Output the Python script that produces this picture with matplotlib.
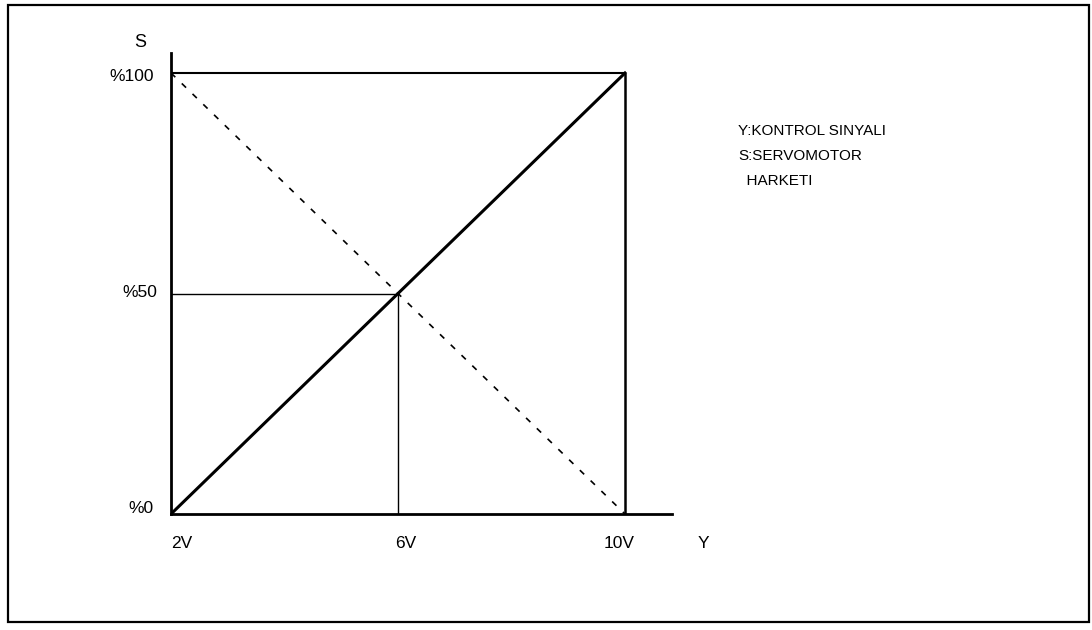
import matplotlib.pyplot as plt
from matplotlib.patches import Rectangle

# valores del grafico
volts = [2, 6, 10]
percents = [0, 50, 100]
x_labels = ["2V", "6V", "10V"]
y_labels = ["%0", "%50", "%100"]
legend_lines = ["Y:KONTROL SINYALI", "S:SERVOMOTOR", "  HARKETI"]

plt.rcParams["font.family"] = ["Liberation Sans", "DejaVu Sans"]

fig = plt.figure(figsize=(10.92, 6.3), dpi=100)
ax = fig.add_axes([171 / 1092, 116 / 630, 501 / 1092, 461 / 630])
ax.set_xlim(2, 2 + 501 / 56.75)
ax.set_ylim(0, 461 / 4.41)

for side in ["top", "right"]:
    ax.spines[side].set_visible(False)
ax.spines["left"].set_linewidth(2)
ax.spines["bottom"].set_linewidth(2)
ax.set_xticks([])
ax.set_yticks([])

x0, xm, x1 = volts
y0, ym, y1 = percents

# marco del 100%
ax.plot([x0, x1], [y1, y1], color="black", lw=1.5, solid_capstyle="butt")
ax.plot([x1, x1], [y0, y1], color="black", lw=1.8, solid_capstyle="butt")
# recta principal y la inversa punteada
ax.plot([x0, x1], [y0, y1], color="black", lw=2.2)
ax.plot([x0, x1], [y1, y0], color="black", lw=1.2, linestyle=(0, (3.6, 5.4)))
# guias del 50%
ax.plot([x0, xm], [ym, ym], color="black", lw=1.0)
ax.plot([xm, xm], [y0, ym], color="black", lw=1.0)

fs = 12.5
ty = -6.8  # altura de las etiquetas del eje x
# etiquetas eje x
ax.text(volts[0], ty, x_labels[0], ha="left", va="center", fontsize=fs, clip_on=False)
ax.text(volts[1] - 0.05, ty, x_labels[1], ha="left", va="center", fontsize=fs, clip_on=False)
ax.text(volts[2] - 0.1, ty, x_labels[2], ha="center", va="center", fontsize=fs, clip_on=False)
ax.text(11.39, ty, "Y", ha="center", va="center", fontsize=fs, clip_on=False)

# etiquetas eje y
ax.text(1.7, percents[0] + 1.3, y_labels[0], ha="right", va="center", fontsize=fs, clip_on=False)
ax.text(1.76, percents[1] + 0.2, y_labels[1], ha="right", va="center", fontsize=fs, clip_on=False)
ax.text(1.7, percents[2] - 0.9, y_labels[2], ha="right", va="center", fontsize=fs, clip_on=False)
ax.text(1.45, 107.0, "S", ha="center", va="center", fontsize=fs + 0.5, clip_on=False)

# texto explicativo
lfs = 11
fig.text(738 / 1092, (630 - 131) / 630, legend_lines[0], ha="left", va="center", fontsize=lfs)
fig.text(738 / 1092, (630 - 156) / 630, legend_lines[1], ha="left", va="center", fontsize=lfs)
fig.text(738 / 1092, (630 - 181) / 630, legend_lines[2], ha="left", va="center", fontsize=lfs)

# borde exterior
fig.add_artist(Rectangle((8 / 1092, 8 / 630), 1081 / 1092, 617 / 630,
                         transform=fig.transFigure, fill=False, lw=1.6, color="black"))

fig.savefig("out.png", dpi=100)
